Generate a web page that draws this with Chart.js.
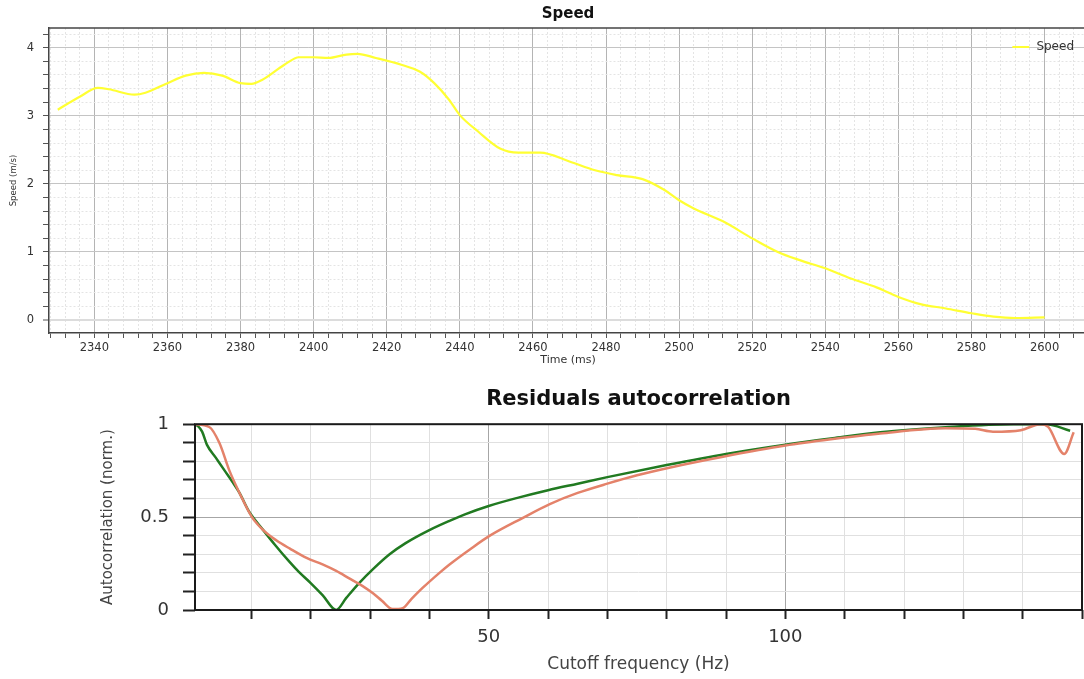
<!DOCTYPE html>
<html><head><meta charset="utf-8">
<script src="https://cdn.jsdelivr.net/npm/chart.js@4"></script>
<style>
html,body{margin:0;padding:0;background:#fff;overflow:hidden;width:1084px;height:679px;}
#c1{position:absolute;left:0;top:0;}
#c2{position:absolute;left:0;top:375px;}
</style></head><body>
<canvas id="c1" width="1087" height="375"></canvas>
<canvas id="c2" width="1090" height="304"></canvas>
<script>
// ---------- Top chart data (Speed vs time) ----------
const speedTitle = 'Speed';
const speedLabel = 'Speed';
const speedTime = [2330, 2336, 2341, 2344, 2351, 2354, 2360, 2365, 2370, 2375,
                   2380, 2383, 2386, 2392, 2396, 2400, 2404, 2409, 2412, 2417,
                   2424, 2429, 2433, 2437, 2440, 2445, 2451, 2456, 2462, 2470,
                   2477, 2483, 2490, 2496, 2500, 2504, 2512, 2520, 2527, 2533,
                   2540, 2547, 2554, 2560, 2566, 2573, 2580, 2586, 2592, 2600];
const speedValue = [3.09, 3.28, 3.41, 3.39, 3.31, 3.34, 3.48, 3.59, 3.63, 3.59,
                    3.48, 3.47, 3.53, 3.75, 3.86, 3.86, 3.85, 3.90, 3.91, 3.85,
                    3.75, 3.65, 3.48, 3.24, 3.01, 2.77, 2.52, 2.46, 2.46, 2.33,
                    2.20, 2.13, 2.07, 1.91, 1.76, 1.64, 1.45, 1.20, 1.00, 0.88,
                    0.76, 0.61, 0.48, 0.34, 0.235, 0.17, 0.10, 0.05, 0.03, 0.04];
const speedXTitle = 'Time (ms)';
const speedYTitle = 'Speed (m/s)';

// ---------- Bottom chart data (Residuals autocorrelation) ----------
const acTitle = 'Residuals autocorrelation';
const acXTitle = 'Cutoff frequency (Hz)';
const acYTitle = 'Autocorrelation (norm.)';
const acXLabels = [50, 100];
const acYLabels = ['0', '0.5', '1'];
const greenFreq = [0.3, 1, 1.7, 2.5, 4, 5.5, 6.8, 8, 9.6, 12,
                   14, 16.4, 18, 20, 22, 24.3, 26, 28.2, 30.5, 33.3,
                   36, 40, 43.4, 46, 50, 55, 60, 65, 70, 80,
                   90, 100, 108, 116, 127, 138.5, 144, 148];
const greenVal = [1.0, 0.99, 0.96, 0.89, 0.82, 0.75, 0.69, 0.63, 0.53, 0.43,
                  0.35, 0.26, 0.205, 0.145, 0.08, 0.0, 0.065, 0.146, 0.22, 0.30,
                  0.36, 0.43, 0.48, 0.515, 0.56, 0.605, 0.645, 0.68, 0.715, 0.78,
                  0.84, 0.89, 0.925, 0.957, 0.984, 1.0, 1.0, 0.965];
const orangeFreq = [0.3, 2.9, 4.6, 6.3, 8, 10.1, 12, 14.2, 16.5, 19.3,
                    22, 24.3, 26.5, 28.7, 30.5, 32, 33.8, 35.5, 37, 38.9,
                    41.7, 43.4, 47, 50.2, 55.7, 60.3, 65, 70, 75, 81,
                    89.5, 100, 108, 116, 127, 132, 135, 139.7, 143, 144.3,
                    147, 148.6];
const orangeVal = [1.0, 0.985, 0.90, 0.75, 0.63, 0.5, 0.43, 0.375, 0.33, 0.28,
                   0.245, 0.21, 0.17, 0.13, 0.09, 0.05, 0.005, 0.01, 0.06, 0.12,
                   0.2, 0.245, 0.33, 0.40, 0.495, 0.57, 0.63, 0.68, 0.725, 0.77,
                   0.825, 0.885, 0.92, 0.95, 0.978, 0.975, 0.96, 0.968, 1.0, 0.985,
                   0.84, 0.957];

const FONT = 'DejaVu Sans';
const isTick = c => c && c.type === 'tick' && c.tick;

// ---------- Top chart ----------
const speedFrame = {
  id: 'speedFrame',
  afterDraw(chart) {
    const {ctx, chartArea: a} = chart;
    const ds = chart.data.datasets[0];
    ctx.save();
    ctx.strokeStyle = '#444';
    ctx.lineWidth = 1.5;
    ctx.beginPath(); ctx.moveTo(a.left, a.top); ctx.lineTo(a.right, a.top); ctx.stroke();
    ctx.font = '12px "' + FONT + '"';
    const tw = ctx.measureText(ds.label).width;
    const xt = a.right - 13 - tw;
    const y = a.top + 19;
    ctx.strokeStyle = ds.borderColor;
    ctx.lineWidth = 2;
    ctx.beginPath(); ctx.moveTo(xt - 24, y); ctx.lineTo(xt - 7, y); ctx.stroke();
    ctx.fillStyle = '#333';
    ctx.textBaseline = 'middle';
    ctx.fillText(ds.label, xt, y);
    ctx.restore();
  }
};

new Chart(document.getElementById('c1'), {
  type: 'line',
  data: {
    datasets: [{
      label: speedLabel,
      data: speedTime.map((t, i) => ({x: t, y: speedValue[i]})),
      borderColor: '#ffff33',
      backgroundColor: '#ffff33',
      borderWidth: 2.2,
      pointRadius: 0,
      fill: false,
      cubicInterpolationMode: 'monotone'
    }]
  },
  options: {
    responsive: false, animation: false, devicePixelRatio: 1,
    layout: {padding: 0},
    plugins: {
      legend: {display: false},
      tooltip: {enabled: false},
      title: {display: true, text: speedTitle, fullSize: false, color: '#111',
              font: {family: FONT, size: 15, weight: 'bold'}, padding: {top: 5, bottom: 5}}
    },
    scales: {
      x: {
        type: 'linear', min: 2327.6, max: 2611.6,
        afterBuildTicks: s => { const t = []; for (let v = 2328; v <= 2611; v += 4) t.push({value: v}); s.ticks = t; },
        afterFit: s => { s.height = 42; },
        ticks: {autoSkip: false, maxRotation: 0, padding: 3, color: '#333',
                font: {family: FONT, size: 11.5},
                callback: v => (Math.round(v) % 20 === 0 ? String(Math.round(v)) : '')},
        grid: {
          drawTicks: true, tickLength: 5, tickColor: '#555', tickWidth: 1,
          color: c => isTick(c) && Math.round(c.tick.value) % 20 === 0 ? '#b4b4b4' : '#e4e4e4',
          lineWidth: 1
        },
        border: {display: true, color: '#444', width: 1.5,
                 dash: c => (isTick(c) && Math.round(c.tick.value) % 20 !== 0) ? [2, 2] : []},
        title: {display: true, text: speedXTitle, color: '#333', font: {family: FONT, size: 11},
                padding: {top: 0, bottom: 8}}
      },
      y: {
        type: 'linear', min: -0.19, max: 4.29,
        afterBuildTicks: s => { const t = []; for (let i = 0; i <= 21; i++) t.push({value: i / 5}); s.ticks = t; },
        afterFit: s => { s.width = 49; },
        ticks: {autoSkip: false, padding: 9, color: '#333', font: {family: FONT, size: 11.5},
                callback: v => { const i = Math.round(v * 5); return i % 5 === 0 ? String(i / 5) : ''; }},
        grid: {
          drawTicks: true, tickLength: 6, tickColor: '#555', tickWidth: 1,
          color: c => {
            if (!isTick(c)) return '#e4e4e4';
            const i = Math.round(c.tick.value * 5);
            if (i === 0) return '#dcdcdc';
            return i % 5 === 0 ? '#c4c4c4' : '#e4e4e4';
          },
          lineWidth: c => (isTick(c) && Math.round(c.tick.value * 5) === 0 ? 2 : 1)
        },
        border: {display: true, color: '#444', width: 1.5,
                 dash: c => (isTick(c) && Math.round(c.tick.value * 5) % 5 !== 0) ? [2, 2] : []},
        title: {display: true, text: speedYTitle, color: '#333', font: {family: FONT, size: 8.5},
                padding: {top: 9, bottom: 0}}
      }
    }
  },
  plugins: [speedFrame]
});

// ---------- Bottom chart ----------
const acFrame = {
  id: 'acFrame',
  afterDatasetsDraw(chart) {
    const {ctx, chartArea: a} = chart;
    ctx.save();
    ctx.strokeStyle = '#1a1a1a';
    ctx.lineWidth = 2;
    ctx.strokeRect(a.left, a.top, a.right - a.left, a.bottom - a.top);
    ctx.restore();
  }
};

new Chart(document.getElementById('c2'), {
  type: 'line',
  data: {
    datasets: [
      {
        label: 'Autocorrelation B',
        data: orangeFreq.map((f, i) => ({x: f, y: orangeVal[i]})),
        borderColor: '#e4826a', backgroundColor: '#e4826a',
        borderWidth: 2.5, pointRadius: 0, fill: false, cubicInterpolationMode: 'monotone'
      },
      {
        label: 'Autocorrelation A',
        data: greenFreq.map((f, i) => ({x: f, y: greenVal[i]})),
        borderColor: '#217a21', backgroundColor: '#217a21',
        borderWidth: 2.5, pointRadius: 0, fill: false, cubicInterpolationMode: 'monotone'
      }
    ]
  },
  options: {
    responsive: false, animation: false, devicePixelRatio: 1,
    layout: {padding: 0},
    plugins: {
      legend: {display: false},
      tooltip: {enabled: false},
      title: {display: true, text: acTitle, fullSize: false, color: '#111',
              font: {family: FONT, size: 21, weight: 'bold'}, padding: {top: 12, bottom: 12}}
    },
    scales: {
      x: {
        type: 'linear', min: 0.5, max: 150,
        afterBuildTicks: s => { const t = []; for (let v = 10; v <= 150; v += 10) t.push({value: v}); s.ticks = t; },
        afterFit: s => { s.height = 69; },
        ticks: {autoSkip: false, maxRotation: 0, padding: 8, color: '#333',
                font: {family: FONT, size: 18},
                callback: v => (acXLabels.includes(Math.round(v)) ? String(Math.round(v)) : '')},
        grid: {
          drawTicks: true, tickLength: 9, tickColor: '#222', tickWidth: 2,
          color: c => isTick(c) && acXLabels.includes(Math.round(c.tick.value)) ? '#a6a6a6' : '#e0e0e0',
          lineWidth: 1
        },
        border: {display: false},
        title: {display: true, text: acXTitle, color: '#444', font: {family: FONT, size: 17},
                padding: {top: 0, bottom: 4}}
      },
      y: {
        type: 'linear', min: 0, max: 1,
        afterBuildTicks: s => { const t = []; for (let i = 0; i <= 10; i++) t.push({value: i / 10}); s.ticks = t; },
        afterFit: s => { s.width = 195; },
        ticks: {autoSkip: false, padding: 14, color: '#333', font: {family: FONT, size: 18},
                callback: v => { const i = Math.round(v * 10); return i % 5 === 0 ? acYLabels[i / 5] : ''; }},
        grid: {
          drawTicks: true, tickLength: 12, tickColor: '#222', tickWidth: 2,
          color: c => isTick(c) && Math.round(c.tick.value * 10) === 5 ? '#a6a6a6' : '#e0e0e0',
          lineWidth: 1
        },
        border: {display: false},
        title: {display: true, text: acYTitle, color: '#444', font: {family: FONT, size: 15},
                padding: {top: 99, bottom: 0}}
      }
    }
  },
  plugins: [acFrame]
});
</script>
</body></html>
